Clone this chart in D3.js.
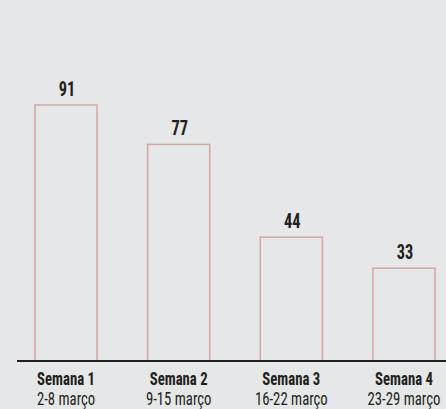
<!DOCTYPE html>
<html><head><meta charset="utf-8">
<script src="https://cdn.jsdelivr.net/npm/d3@7"></script>
<style>
html,body{margin:0;padding:0;background:#e6e7e8;}
svg{display:block;}
text{font-family:"Liberation Sans Narrow","Roboto Condensed","DejaVu Sans Condensed",sans-serif;fill:#231f20;}
</style></head><body>
<svg id="c" width="446" height="409"></svg>
<script>
const weeks = ["Semana 1","Semana 2","Semana 3","Semana 4"];
const dates = ["2-8 março","9-15 março","16-22 março","23-29 março"];
const values = [91,77,44,33];

const svg = d3.select("#c");
const baseY = 361;
const x = d3.scaleBand().domain(weeks).range([34.5,435.5]).paddingInner(0.44).paddingOuter(0);
const y = d3.scaleLinear().domain([0,91]).range([baseY,105]);

svg.selectAll("rect.bar").data(weeks).join("rect")
  .attr("class","bar")
  .attr("x",d=>x(d)+0.5)
  .attr("y",(d,i)=>y(values[i]))
  .attr("width",x.bandwidth()-1)
  .attr("height",(d,i)=>baseY-y(values[i]))
  .attr("fill","none")
  .attr("stroke","#d3a7a2")
  .attr("stroke-width",1.5);

svg.selectAll("text.val").data(weeks).join("text")
  .attr("class","val")
  .attr("text-anchor","middle")
  .attr("font-weight","bold")
  .attr("font-size",20)
  .attr("transform",(d,i)=>`translate(${x(d)+x.bandwidth()/2+1},${y(values[i])-9}) scale(0.82,1)`)
  .text((d,i)=>values[i]);

svg.append("line").attr("x1",17).attr("x2",446).attr("y1",baseY).attr("y2",baseY)
  .attr("stroke","#231f20").attr("stroke-width",1.8);

const g = svg.selectAll("g.lab").data(weeks).join("g").attr("class","lab")
  .attr("transform",d=>`translate(${x(d)+x.bandwidth()/2},0)`);
g.append("text").attr("text-anchor","middle").attr("font-weight","bold").attr("font-size",18)
  .attr("transform","translate(0,384.5) scale(0.82,1)").text(d=>d);
g.append("text").attr("text-anchor","middle").attr("font-size",18)
  .attr("transform","translate(0,405) scale(0.82,1)").text((d,i)=>dates[i]);
</script>
</body></html>
